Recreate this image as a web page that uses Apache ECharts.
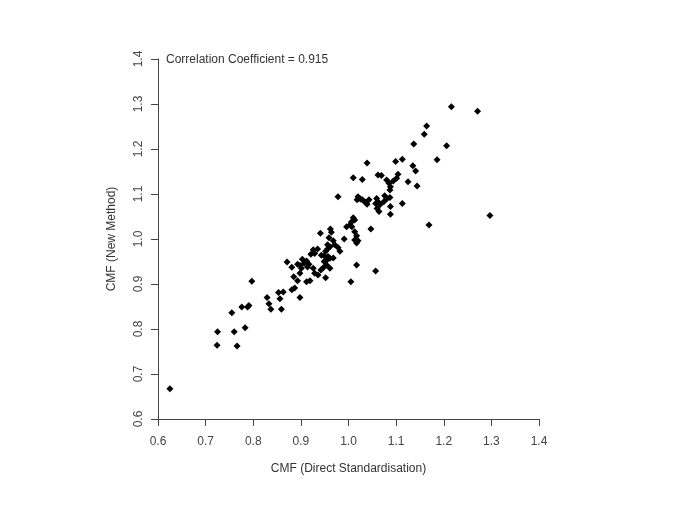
<!DOCTYPE html>
<html><head><meta charset="utf-8">
<script src="https://cdn.jsdelivr.net/npm/echarts@6/dist/echarts.min.js"></script>
<style>html,body{margin:0;padding:0;background:#fff}#c{width:685px;height:513px}</style>
</head><body><div id="c"></div>
<script>
var xTicks = [0.6,0.7,0.8,0.9,1.0,1.1,1.2,1.3,1.4];
var yTicks = [0.6,0.7,0.8,0.9,1.0,1.1,1.2,1.3,1.4];
var directStd = [
0.625,0.724,0.725,0.766,0.760,0.755,0.783,0.776,0.788,0.791,0.797,0.829,0.833,0.837,0.853,0.863,0.856,0.859,0.871,0.881,0.885,0.881,
0.941,0.962,0.964,0.959,0.968,0.991,0.996,1.007,1.013,1.017,1.020,1.013,1.017,0.956,0.961,0.956,0.952,0.971,0.978,0.982,0.926,0.935,0.921,0.929,0.943,0.949,0.957,0.903,0.907,0.912,0.917,0.914,0.893,0.898,0.949,0.954,0.961,0.968,0.954,0.947,0.942,0.926,0.929,0.936,0.961,0.901,0.898,0.952,1.017,1.005,0.893,0.912,0.919,0.898,0.887,
1.010,1.029,1.062,1.069,1.080,1.085,1.094,1.101,1.088,1.087,1.125,1.020,1.025,1.018,1.029,1.034,1.039,1.043,1.059,1.062,1.057,1.066,1.060,1.064,1.076,1.080,1.087,1.074,1.088,1.113,1.088,1.010,1.013,1.006,1.003,1.047,
1.159,1.137,1.206,1.099,1.113,1.186,1.135,1.141,1.104,1.144,
1.216,1.271,1.164,1.039,0.978,1.169,1.297,1.057
];
var newMethod = [
0.667,0.764,0.794,0.762,0.794,0.836,0.803,0.849,0.849,0.852,0.906,0.870,0.856,0.844,0.881,0.882,0.867,0.844,0.949,0.937,0.916,0.887,
1.013,1.022,1.015,1.003,0.996,1.000,1.027,1.027,1.016,1.007,0.996,0.998,0.991,0.987,0.983,0.978,0.973,0.987,0.981,0.973,0.976,0.978,0.966,0.968,0.964,0.963,0.961,0.955,0.946,0.951,0.944,0.938,0.944,0.941,0.950,0.953,0.957,0.958,0.942,0.936,0.931,0.935,0.924,0.920,0.935,0.935,0.924,0.914,0.942,0.905,0.907,0.905,0.907,0.870,0.891,
1.136,1.132,1.142,1.141,1.131,1.124,1.129,1.135,1.116,1.109,1.127,1.094,1.089,1.087,1.087,1.083,1.077,1.087,1.090,1.083,1.079,1.076,1.068,1.061,1.096,1.089,1.092,1.083,1.072,1.079,1.055,1.047,1.042,1.038,1.031,1.022,
1.233,1.211,1.207,1.172,1.177,1.176,1.163,1.151,1.144,1.118,
1.294,1.284,1.251,1.169,1.094,1.031,1.052,0.929
];
var corrText = 'Correlation Coefficient = 0.915';
var xName = 'CMF (Direct Standardisation)';
var yName = 'CMF (New Method)';

var pts = directStd.map(function(v,i){return [v,newMethod[i]];});
var chart = echarts.init(document.getElementById('c'), null, {renderer:'canvas'});
var font = 'Liberation Sans, Arial, sans-serif';
var axisCommon = {
  min: 0.6, max: 1.4, interval: 0.1,
  splitLine:{show:false},
  axisLine:{show:true, onZero:false, lineStyle:{color:'#444', width:1}},
  axisTick:{show:true, inside:false, length:7, lineStyle:{color:'#444'}},
  nameLocation:'middle',
  nameTextStyle:{fontFamily:font, fontSize:12, color:'#333'}
};
chart.setOption({
  animation:false,
  backgroundColor:'#fff',
  title:{text:corrText, left:161, top:49, textStyle:{fontFamily:font, fontSize:12, fontWeight:'normal', color:'#333'}},
  grid:{left:158, right:146, top:59, bottom:94, containLabel:false},
  xAxis:Object.assign({}, axisCommon, {
    type:'value', name:xName, nameGap:44,
    axisLabel:{margin:17, fontFamily:font, fontSize:12, color:'#444',
      formatter:function(v){return v.toFixed(1);}}
  }),
  yAxis:Object.assign({}, axisCommon, {
    type:'value', name:yName, nameGap:40, nameRotate:90,
    axisLabel:{margin:13, rotate:90, fontFamily:font, fontSize:12, color:'#444',
      formatter:function(v){return v.toFixed(1);}}
  }),
  series:[{
    type:'scatter', data:pts, symbol:'diamond', symbolSize:7,
    itemStyle:{color:'#000', opacity:1}
  }]
});
</script></body></html>
